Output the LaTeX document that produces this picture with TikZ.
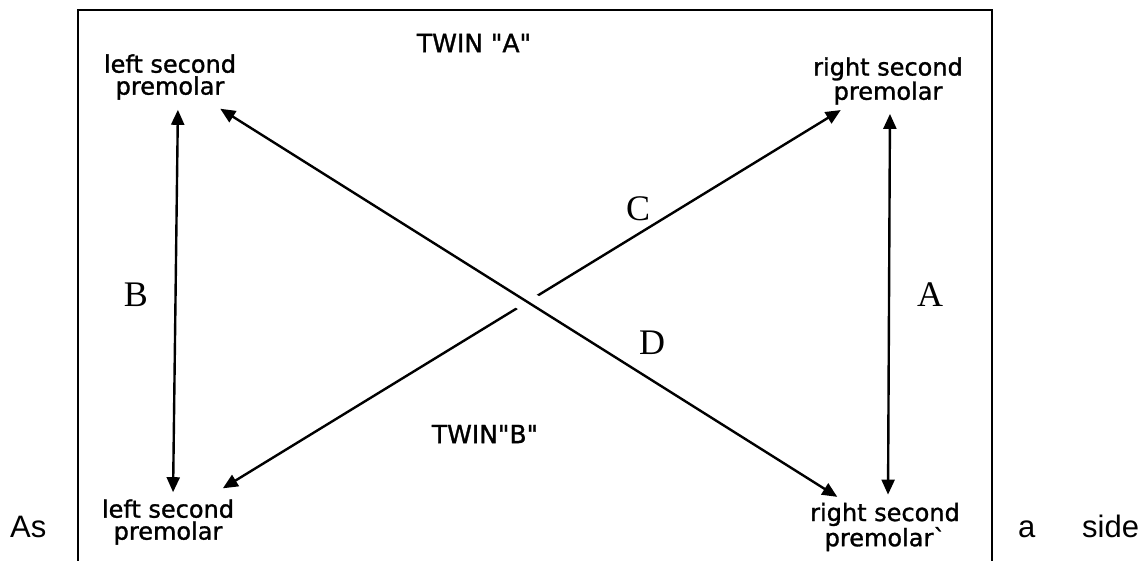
\documentclass[tikz,border=0pt]{standalone}
\usepackage{fontspec}
\newfontfamily\toothfont[FakeBold=1.2]{DejaVu Sans}
\newfontfamily\letterfont{Liberation Serif}
\newfontfamily\prosefont{Liberation Sans}
\usetikzlibrary{arrows.meta}

\begin{document}
\begin{tikzpicture}[x=1pt,y=-1pt,
  tooth/.style={align=center,inner sep=2pt,font=\toothfont\fontsize{24}{22}\selectfont},
  twin/.style={inner sep=0pt,font=\toothfont\fontsize{25}{28}\selectfont},
  pair/.style={inner sep=0pt,font=\letterfont\fontsize{36}{40}\selectfont},
  prose/.style={anchor=base west,inner sep=0pt,font=\prosefont\fontsize{31}{36}\selectfont},
  arr/.style={line width=2.4pt,{Triangle[length=15pt,width=13pt]}-{Triangle[length=15pt,width=13pt]}}]
  \useasboundingbox (0,0) rectangle (1145,560);
  \clip (0,0) rectangle (1145,560);
  \fill[white] (0,0) rectangle (1145,560);
  \draw[line width=2.2pt] (78,10) rectangle (992,590);
  \node[tooth] (lt) at (170,77) {left second\\premolar};
  \node[tooth] (lb) at (168,522) {left second\\premolar};
  \node[tooth] (rt) at (888,81) {right second\\premolar};
  \node[tooth] (rb) at (885,527) {right second\\premolar`};
  \draw[arr,shorten <=8pt,shorten >=5pt] ([xshift=8pt]lt.south) -- ([xshift=5pt]lb.north);
  \draw[arr,shorten <=7pt,shorten >=6pt] ([xshift=2pt]rt.south) -- ([xshift=3pt]rb.north);
  \draw[arr,shorten <=17pt,shorten >=6pt] (lb) -- (rt);
  \draw[arr,shorten <=13pt,shorten >=7pt,preaction={draw=white,line width=22pt,arrows=-}] (lt) -- (rb);
  \node[twin] (ta) at (474,43) {TWIN "A"};
  \node[twin] (tb) at (485,434) {TWIN"B"};
  \node[pair] (a) at (930,295) {A};
  \node[pair] (b) at (136,295) {B};
  \node[pair] (c) at (638,209) {C};
  \node[pair] (d) at (652,343) {D};
  \node[prose] (as) at (10,537) {As};
  \node[prose] (aa) at (1018,537) {a};
  \node[prose] (side) at (1082,537) {side};
\end{tikzpicture}
\end{document}
